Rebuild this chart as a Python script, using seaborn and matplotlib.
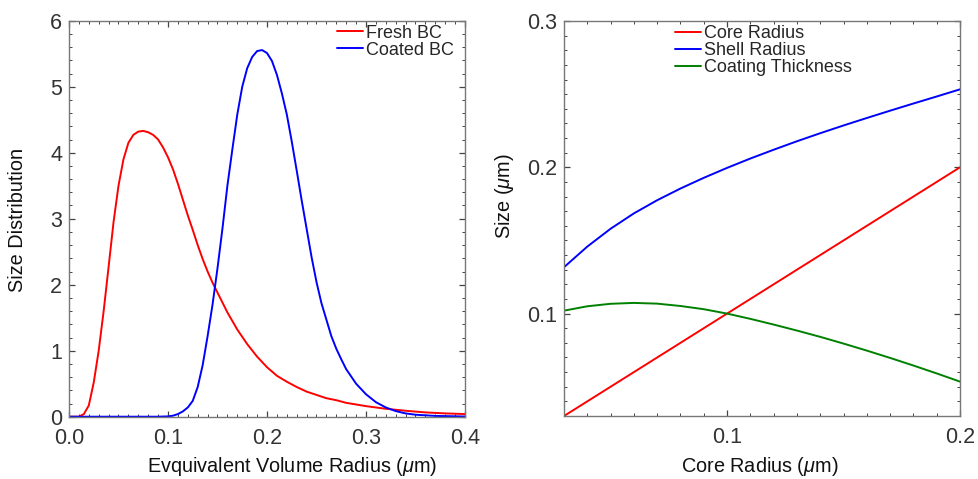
import numpy as np
import pandas as pd
import matplotlib
matplotlib.use("Agg")
import matplotlib.pyplot as plt
from matplotlib.ticker import MultipleLocator, FormatStrFormatter
import seaborn as sns

# ---------------- data ----------------
fresh_x = [0.000, 0.010, 0.015, 0.020, 0.025, 0.030, 0.035, 0.040, 0.045, 0.050,
           0.055, 0.060, 0.065, 0.070, 0.075, 0.080, 0.085, 0.090, 0.095, 0.100,
           0.105, 0.110, 0.115, 0.120, 0.125, 0.130, 0.135, 0.140, 0.145, 0.150,
           0.160, 0.170, 0.180, 0.190, 0.200, 0.210, 0.220, 0.230, 0.240, 0.250,
           0.260, 0.270, 0.280, 0.300, 0.320, 0.340, 0.360, 0.380, 0.400]
fresh_y = [0.00, 0.00, 0.04, 0.17, 0.52, 1.00, 1.60, 2.27, 2.95, 3.50,
           3.90, 4.15, 4.27, 4.32, 4.33, 4.31, 4.27, 4.20, 4.08, 3.93,
           3.75, 3.53, 3.29, 3.05, 2.83, 2.60, 2.39, 2.20, 2.03, 1.88,
           1.58, 1.32, 1.10, 0.91, 0.75, 0.62, 0.53, 0.45, 0.38, 0.33,
           0.28, 0.25, 0.21, 0.16, 0.12, 0.09, 0.065, 0.05, 0.04]

coated_x = [0.000, 0.090, 0.100, 0.105, 0.110, 0.115, 0.120, 0.125, 0.130, 0.135,
            0.140, 0.145, 0.150, 0.155, 0.160, 0.165, 0.170, 0.175, 0.180, 0.185,
            0.190, 0.195, 0.200, 0.205, 0.210, 0.215, 0.220, 0.225, 0.230, 0.235,
            0.240, 0.245, 0.250, 0.255, 0.260, 0.265, 0.270, 0.275, 0.280, 0.290,
            0.300, 0.310, 0.320, 0.330, 0.340, 0.350, 0.370, 0.400]
coated_y = [0.000, 0.000, 0.005, 0.015, 0.04, 0.08, 0.14, 0.24, 0.45, 0.78,
            1.22, 1.70, 2.25, 2.85, 3.50, 4.05, 4.58, 5.00, 5.28, 5.45,
            5.54, 5.555, 5.51, 5.39, 5.18, 4.90, 4.58, 4.17, 3.73, 3.28,
            2.85, 2.42, 2.04, 1.72, 1.47, 1.22, 1.03, 0.87, 0.72, 0.50,
            0.34, 0.22, 0.14, 0.085, 0.05, 0.03, 0.012, 0.003]

core_radius = [0.03, 0.04, 0.05, 0.06, 0.07, 0.08, 0.09, 0.10, 0.11, 0.12,
               0.13, 0.14, 0.15, 0.16, 0.17, 0.18, 0.19, 0.20]
shell_radius = [0.1317, 0.1458, 0.1580, 0.1685, 0.1775, 0.1855, 0.1928, 0.1996, 0.2060, 0.2120,
                0.2178, 0.2233, 0.2286, 0.2337, 0.2387, 0.2436, 0.2484, 0.2533]
coating_thickness = [0.1020, 0.1050, 0.1067, 0.1073, 0.1068, 0.1052, 0.1030, 0.1000, 0.0964, 0.0925,
                     0.0884, 0.0841, 0.0795, 0.0747, 0.0697, 0.0645, 0.0591, 0.0535]

left_labels = ["Fresh BC", "Coated BC"]
right_labels = ["Core Radius", "Shell Radius", "Coating Thickness"]

# ---------------- style ----------------
sns.set_style("ticks")
plt.rcParams["font.family"] = ["Liberation Sans", "DejaVu Sans"]
plt.rcParams["mathtext.fontset"] = "custom"
plt.rcParams["mathtext.it"] = "Liberation Sans:italic"
plt.rcParams["mathtext.rm"] = "Liberation Sans"

spine_col = "#777777"
tick_lab_col = "#333333"

fig = plt.figure(figsize=(9.79, 4.79), dpi=100)
axL = fig.add_axes([69 / 979, 62.3 / 479, 396 / 979, 396 / 479])
axR = fig.add_axes([564 / 979, 63 / 479, 396 / 979, 395 / 479])

dfL = pd.concat([
    pd.DataFrame({"x": fresh_x, "y": fresh_y, "s": left_labels[0]}),
    pd.DataFrame({"x": coated_x, "y": coated_y, "s": left_labels[1]}),
])
sns.lineplot(data=dfL, x="x", y="y", hue="s", palette=["#ff0000", "#0000ff"],
             estimator=None, sort=False, lw=1.4, ax=axL)

dfR = pd.concat([
    pd.DataFrame({"x": core_radius, "y": core_radius, "s": right_labels[0]}),
    pd.DataFrame({"x": core_radius, "y": shell_radius, "s": right_labels[1]}),
    pd.DataFrame({"x": core_radius, "y": coating_thickness, "s": right_labels[2]}),
])
sns.lineplot(data=dfR, x="x", y="y", hue="s", palette=["#ff0000", "#0000ff", "#008000"],
             estimator=None, sort=False, lw=1.4, ax=axR)

axL.set_xlim(0, 0.4)
axL.set_ylim(0, 6)
axR.set_xlim(0.03, 0.2)
axR.set_ylim(0.03, 0.3)

for ax in (axL, axR):
    for sp in ax.spines.values():
        sp.set_visible(True)
        sp.set_color(spine_col)
        sp.set_linewidth(1.0)
    ax.tick_params(which="both", direction="in", top=True, right=True,
                   colors="#444444", labelcolor=tick_lab_col, labelsize=15.5)
    ax.tick_params(which="major", length=4.5, width=0.9)
    ax.tick_params(which="minor", length=2.5, width=0.7)
    ax.tick_params(axis="x", pad=8)
    ax.tick_params(axis="y", pad=5)

axL.xaxis.set_major_locator(MultipleLocator(0.1))
axL.xaxis.set_minor_locator(MultipleLocator(0.01))
axL.xaxis.set_major_formatter(FormatStrFormatter("%.1f"))
axL.yaxis.set_major_locator(MultipleLocator(1))
axL.yaxis.set_minor_locator(MultipleLocator(0.2))
axL.yaxis.set_major_formatter(FormatStrFormatter("%d"))

axR.xaxis.set_major_locator(MultipleLocator(0.1))
axR.xaxis.set_minor_locator(MultipleLocator(0.01))
axR.xaxis.set_major_formatter(FormatStrFormatter("%.1f"))
axR.yaxis.set_major_locator(MultipleLocator(0.1))
axR.yaxis.set_minor_locator(MultipleLocator(0.01))
axR.yaxis.set_major_formatter(FormatStrFormatter("%.1f"))

lab_kw = dict(fontsize=14.3, color="#111111")
axL.set_xlabel(r"Evquivalent Volume Radius ($\mu$m)", va="center", **lab_kw)
axL.set_ylabel("Size Distribution", va="center", **lab_kw)
axR.set_xlabel(r"Core Radius ($\mu$m)", va="center", **lab_kw)
axR.set_ylabel(r"Size ($\mu$m)", va="center", **lab_kw)
axL.xaxis.set_label_coords(0.563, -0.127)
axL.yaxis.set_label_coords(-0.129, 0.498)
axR.xaxis.set_label_coords(0.494, -0.127)
axR.yaxis.set_label_coords(-0.149, 0.556)

for ax, x0 in ((axL, 0.677), (axR, 0.280)):
    leg = ax.legend(loc="upper left", bbox_to_anchor=(x0, 0.99), frameon=False,
                    fontsize=13, borderpad=0, borderaxespad=0, handlelength=1.45,
                    handletextpad=0.15, labelspacing=0.0, title=None)
    for h in leg.get_lines():
        h.set_linewidth(1.4)

fig.savefig("out.png", dpi=100)
